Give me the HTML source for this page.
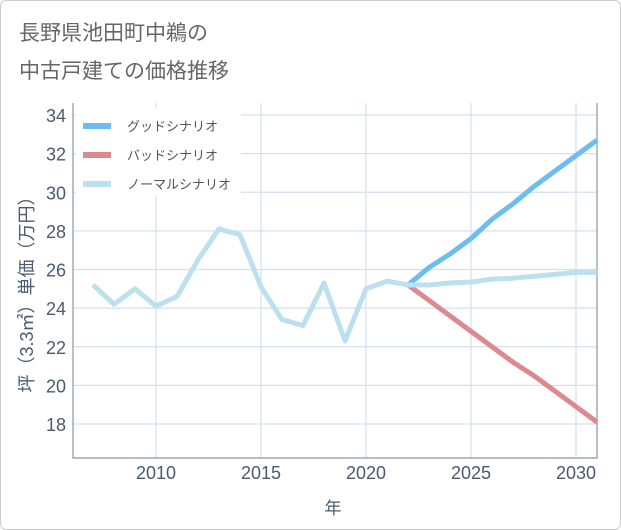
<!DOCTYPE html>
<html><head><meta charset="utf-8"><style>
body{margin:0;background:#fff;font-family:"Liberation Sans","Noto Sans CJK JP",sans-serif;}
#wrap{position:relative;width:619px;height:528px;border:1px solid #ccc;border-radius:6px;overflow:hidden;}
.title{position:absolute;left:18px;font-size:21px;color:#666;}
</style></head><body>
<div id="wrap">
<div class="title" style="top:16px">長野県池田町中鵜の</div>
<div class="title" style="top:54px">中古戸建ての価格推移</div>
<svg id="chart" width="621" height="530" style="position:absolute;left:-1px;top:-1px"></svg>
</div>
<script>
const years=[2007,2008,2009,2010,2011,2012,2013,2014,2015,2016,2017,2018,2019,2020,2021,2022,2023,2024,2025,2026,2027,2028,2029,2030,2031];
const normal=[25.2,24.2,25.0,24.1,24.6,26.5,28.1,27.8,25.1,23.4,23.1,25.3,22.3,25.0,25.4,25.2,25.2,25.3,25.35,25.5,25.55,25.65,25.75,25.85,25.85];
const futureYears=[2022,2023,2024,2025,2026,2027,2028,2029,2030,2031];
const good=[25.2,26.1,26.8,27.6,28.6,29.4,30.3,31.1,31.9,32.7];
const bad=[25.2,24.4,23.6,22.8,22.0,21.2,20.5,19.7,18.9,18.1];
const yTicks=[18,20,22,24,26,28,30,32,34];
const xTicks=[2010,2015,2020,2025,2030];
const L=73,R=597,T=103,B=458;
const x=v=>156+(v-2010)*21;
const y=v=>424-(v-18)*(309/16);
const svg=document.getElementById('chart');
const NS='http://www.w3.org/2000/svg';
function mk(t,a){const e=document.createElementNS(NS,t);for(const k in a)e.setAttribute(k,a[k]);svg.appendChild(e);return e;}
yTicks.forEach(v=>{
 const g=mk('line',{x1:L,x2:R,y1:y(v),y2:y(v),stroke:'#d3e1ee','stroke-width':1.2});
 
 
 const t=mk('text',{x:66,y:y(v)+7,'text-anchor':'end','font-size':18,fill:'#4a5a70'});
 t.textContent=v;
 
 
});
xTicks.forEach(v=>{
 const g=mk('line',{x1:x(v),x2:x(v),y1:T,y2:B,stroke:'#d3e1ee','stroke-width':1.2});
 
 
 const t=mk('text',{x:x(v),y:479,'text-anchor':'middle','font-size':18,fill:'#4a5a70'});
 t.textContent=v;
 
 
});
const ax=mk('path',{d:`M${L} ${T}V${B}H${R}V${T}`,fill:'none',stroke:'#8896a8','stroke-width':1.2});


function line(xs,ys,c,n){const p=mk('polyline',{points:xs.map((v,i)=>x(v)+','+y(ys[i])).join(' '),fill:'none',stroke:c,'stroke-width':5,'stroke-linejoin':'round'});
 
 }
line(futureYears,good,'#6cbdf2','good-scenario-line');
line(futureYears,bad,'#dc8a90','bad-scenario-line');
line(years,normal,'#bde0ef','normal-scenario-line');
const lb=mk('rect',{x:76,y:108,width:165,height:88,fill:'#fff'});


[['グッドシナリオ','#6cbdf2'],['バッドシナリオ','#dc8a90'],['ノーマルシナリオ','#bde0ef']].forEach((d,i)=>{
 const yy=126+i*29;
 const l=mk('line',{x1:83,x2:111,y1:yy,y2:yy,stroke:d[1],'stroke-width':6});
 
 
 const t=mk('text',{x:127,y:yy+5,'font-size':13,fill:'#555'});
 t.textContent=d[0];
 
 
});
const yt=mk('text',{transform:'translate(33,290) rotate(-90)','text-anchor':'middle','font-size':18,fill:'#4a5a70'});
yt.textContent='坪（3.3㎡）単価（万円）';


const xt=mk('text',{x:333,y:514,'text-anchor':'middle','font-size':17,fill:'#4a5a70'});
xt.textContent='年';


</script>
</body></html>
